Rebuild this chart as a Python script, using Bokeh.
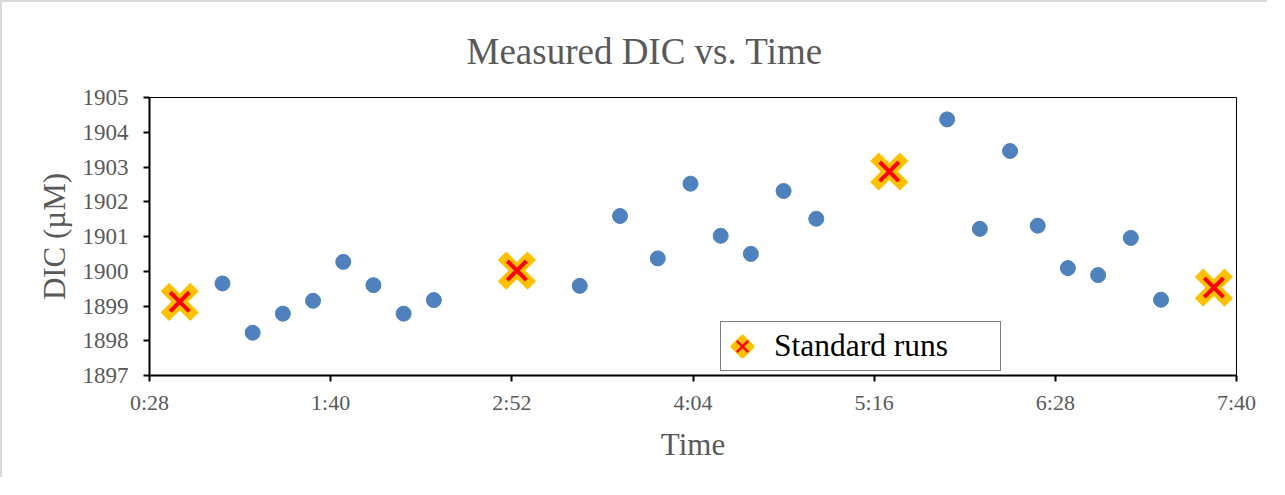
from bokeh.plotting import figure
from bokeh.models import ColumnDataSource, FixedTicker, Legend, LegendItem, Range1d
from bokeh.embed import file_html
from bokeh.resources import INLINE

# ---- data ----
x_tick_labels = ["0:28", "1:40", "2:52", "4:04", "5:16", "6:28", "7:40"]
y_ticks = [1897, 1898, 1899, 1900, 1901, 1902, 1903, 1904, 1905]

sample_time_min = [57, 69, 81, 93, 105, 117, 129, 141,
                   199, 215, 230, 243, 255, 267, 280, 293,
                   345, 358, 370, 381, 393, 405, 418, 430]
sample_dic = [1899.65, 1898.23, 1898.78, 1899.15, 1900.27, 1899.60, 1898.78, 1899.17,
              1899.58, 1901.59, 1900.37, 1902.52, 1901.02, 1900.50, 1902.31, 1901.51,
              1904.37, 1901.22, 1903.46, 1901.31, 1900.09, 1899.89, 1900.96, 1899.18]

standard_time_min = [40, 174, 322, 451]
standard_dic = [1899.12, 1900.02, 1902.87, 1899.53]

# ---- helpers ----
def to_min(s):
    h, m = s.split(":")
    return int(h) * 60 + int(m)

x_ticks = [to_min(s) for s in x_tick_labels]

FONT = "Liberation Serif"
GREY = "#595959"
YELLOW = "#ffc000"
RED = "#ff0000"

p = figure(width=1267, height=477, output_backend="svg", toolbar_location=None,
           x_range=Range1d(x_ticks[0], x_ticks[-1]),
           y_range=Range1d(y_ticks[0], y_ticks[-1]),
           min_border_left=147, min_border_right=33, min_border_top=95, min_border_bottom=104,
           title="Measured DIC vs. Time")
p.styles = {"border-left": "2px solid #d9d9d9", "border-top": "2px solid #d9d9d9"}

p.title.text_font = FONT
p.title.text_font_size = "37px"
p.title.text_font_style = "normal"
p.title.text_color = GREY
p.title.align = "left"
p.title.offset = 317
p.title.standoff = 52

p.xgrid.visible = False
p.ygrid.visible = False
p.outline_line_color = "black"
p.outline_line_width = 1

src_s = ColumnDataSource(dict(t=sample_time_min, v=sample_dic))
src_std = ColumnDataSource(dict(t=standard_time_min, v=standard_dic))

p.scatter("t", "v", source=src_s, size=15, marker="circle",
          fill_color="#4f81bd", line_color="#4f81bd")
p.scatter("t", "v", source=src_std, size=42, marker="x",
          line_color=YELLOW, line_width=12, line_join="miter")
p.scatter("t", "v", source=src_std, size=27, marker="x",
          line_color=RED, line_width=4)

# legend-only renderers: a single undefined (NaN) point, so nothing is drawn in the plot
nan = float("nan")
legend_src = ColumnDataSource(dict(t=[nan], v=[nan]))
l_y = p.scatter("t", "v", source=legend_src, marker="x", line_color=YELLOW,
                line_width=18, line_join="miter")
l_r = p.scatter("t", "v", source=legend_src, marker="x", line_color=RED, line_width=2.5)

for ax in (p.xaxis[0], p.yaxis[0]):
    ax.axis_line_color = "black"
    ax.axis_line_width = 2
    ax.major_tick_line_color = "black"
    ax.major_tick_line_width = 2
    ax.major_tick_in = 0
    ax.major_tick_out = 6
    ax.minor_tick_line_color = None
    ax.major_label_text_font = FONT
    ax.major_label_text_font_size = "22px"
    ax.major_label_text_color = GREY
    ax.axis_label_text_font = FONT
    ax.axis_label_text_font_size = "31px"
    ax.axis_label_text_font_style = "normal"
    ax.axis_label_text_color = GREY

p.xaxis.ticker = FixedTicker(ticks=x_ticks)
p.xaxis.major_label_overrides = {t: s for t, s in zip(x_ticks, x_tick_labels)}
p.xaxis.axis_label = "Time"
p.xaxis.major_label_standoff = 8
p.xaxis.axis_label_standoff = 9

p.yaxis.ticker = FixedTicker(ticks=y_ticks)
p.yaxis.major_label_text_font_size = "23px"
p.yaxis.axis_label = "DIC (µM)"
p.yaxis.major_label_standoff = 15
p.yaxis.axis_label_standoff = 8

legend = Legend(items=[LegendItem(label="Standard runs", renderers=[l_y, l_r], index=0)],
                location=(571, 4), orientation="vertical",
                label_text_font=FONT, label_text_font_size="31.5px", label_text_color="black",
                glyph_width=40, glyph_height=46, label_height=46, label_standoff=12,
                label_width=225, padding=1, margin=0, spacing=0,
                border_line_color="black", border_line_width=1.5,
                background_fill_color="white", background_fill_alpha=1)
p.add_layout(legend, "center")

open("out.html", "w").write(file_html(p, INLINE))
